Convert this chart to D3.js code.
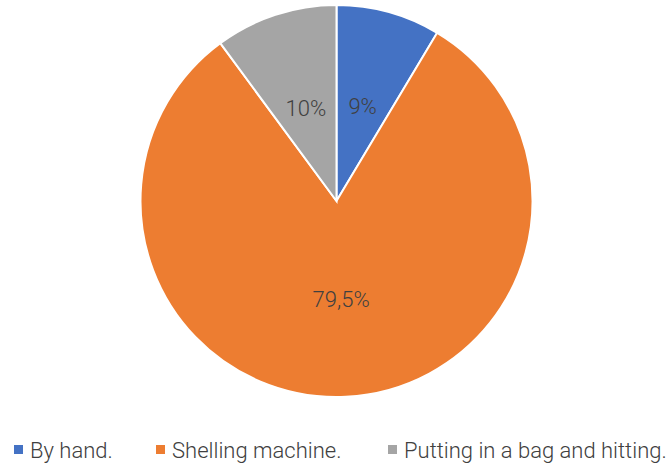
<!DOCTYPE html>
<html>
<head>
<meta charset="utf-8">
<script src="https://cdn.jsdelivr.net/npm/d3@7"></script>
<style>
  body { margin: 0; background: #fff; }
  text { font-family: "Roboto", sans-serif; font-weight: 300; fill: #404040; }
</style>
</head>
<body>
<div id="chart"></div>
<script>
//Datos (tamaño de los sectores, etiquetas tal cual)
const categories = ['By hand.', 'Shelling machine.', 'Putting in a bag and hitting.'];
const values = [8.5, 80.5, 10];
const labels = ['9%', '79,5%', '10%'];
const colors = ['#4472C4', '#ED7D31', '#A5A5A5'];

let width = 670, height = 466;
let cx = 336.5, cy = 201, radius = 196;

let svg = d3.select('#chart')
    .append('svg')
    .attr('width', width)
    .attr('height', height);

let data = categories.map(function(c, i) {
    return { name: c, value: values[i], label: labels[i], color: colors[i] };
});

let pie = d3.pie()
    .sort(null)
    .value(function(d) { return d.value; });

let arc = d3.arc().innerRadius(0).outerRadius(radius);

let g = svg.append('g')
    .attr('transform', 'translate(' + cx + ',' + cy + ')');

let arcs = pie(data);

g.selectAll('path')
    .data(arcs)
    .enter()
    .append('path')
    .attr('d', arc)
    .attr('fill', function(d) { return d.data.color; })
    .attr('stroke', '#fff')
    .attr('stroke-width', 2);

g.selectAll('.label')
    .data(arcs)
    .enter()
    .append('text')
    .attr('class', 'label')
    .attr('transform', function(d) { return 'translate(' + arc.centroid(d) + ')'; })
    .attr('text-anchor', 'middle')
    .attr('dy', '0.35em')
    .style('font-size', '22px')
    .text(function(d) { return d.data.label; });

//Leyenda
let legendX = [14, 156, 388];
let legend = svg.append('g');
data.forEach(function(d, i) {
    legend.append('rect')
        .attr('x', legendX[i])
        .attr('y', 445)
        .attr('width', 9)
        .attr('height', 9)
        .attr('fill', d.color);
    legend.append('text')
        .attr('x', legendX[i] + 16)
        .attr('y', 450)
        .attr('dy', '0.35em')
        .style('font-size', '22px')
        .text(d.name);
});
</script>
</body>
</html>
